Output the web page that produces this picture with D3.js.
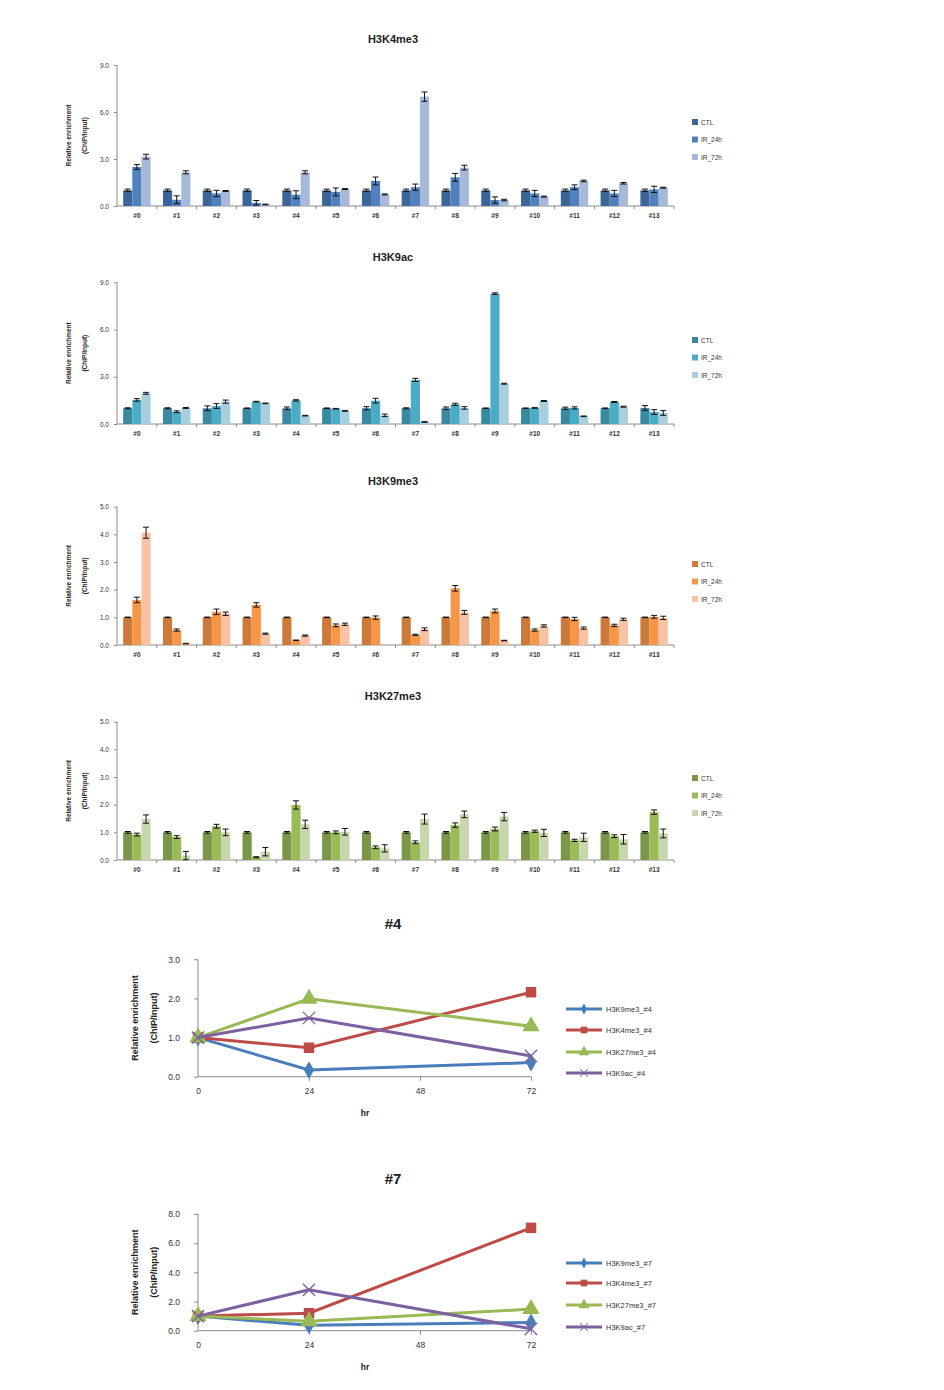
<!DOCTYPE html>
<html><head><meta charset="utf-8">
<script src="https://cdn.jsdelivr.net/npm/d3@7"></script>
<style>body{margin:0;background:#fff} text{font-family:"Liberation Sans",Arial,sans-serif}</style>
</head><body><svg id="c" width="944" height="1390"></svg>
<script>
// ---------- DATA ----------
const categories = ["#0","#1","#2","#3","#4","#5","#6","#7","#8","#9","#10","#11","#12","#13"];
const seriesNames = ["CTL","IR_24h","IR_72h"];

// H3K4me3
const k4me3_ctl = [1.0,1.0,1.0,1.0,1.0,1.0,1.0,1.0,1.0,1.0,1.0,1.0,1.0,1.0];
const k4me3_24h = [2.49,0.4,0.8,0.2,0.72,0.9,1.6,1.2,1.83,0.38,0.8,1.2,0.8,1.06];
const k4me3_72h = [3.15,2.15,0.96,0.1,2.15,1.08,0.74,6.98,2.45,0.38,0.6,1.6,1.45,1.17];
const k4me3_ctl_err = [0.08,0.08,0.08,0.08,0.08,0.08,0.08,0.08,0.08,0.08,0.08,0.08,0.08,0.08];
const k4me3_24h_err = [0.15,0.25,0.2,0.15,0.25,0.25,0.25,0.2,0.25,0.2,0.2,0.15,0.2,0.2];
const k4me3_72h_err = [0.15,0.1,0.03,0.02,0.1,0.03,0.03,0.3,0.15,0.05,0.03,0.05,0.05,0.03];

// H3K9ac
const k9ac_ctl = [1.0,1.0,1.0,1.0,1.0,1.0,1.0,1.0,1.0,1.0,1.0,1.0,1.0,1.02];
const k9ac_24h = [1.53,0.78,1.14,1.42,1.5,0.97,1.48,2.8,1.25,8.28,1.02,1.02,1.4,0.76];
const k9ac_72h = [1.95,1.02,1.42,1.31,0.53,0.83,0.55,0.13,1.02,2.56,1.46,0.49,1.1,0.7];
const k9ac_ctl_err = [0.03,0.03,0.15,0.02,0.08,0.02,0.1,0.03,0.08,0.02,0.02,0.07,0.02,0.15];
const k9ac_24h_err = [0.08,0.06,0.15,0.02,0.04,0.02,0.15,0.1,0.07,0.05,0.02,0.07,0.03,0.15];
const k9ac_72h_err = [0.06,0.03,0.1,0.02,0.02,0.02,0.08,0.02,0.08,0.03,0.03,0.02,0.03,0.15];

// H3K9me3
const k9me3_ctl = [1.0,1.0,1.0,1.0,1.0,1.0,1.0,1.0,1.0,1.0,1.0,1.0,1.0,1.0];
const k9me3_24h = [1.63,0.54,1.2,1.45,0.17,0.71,0.99,0.37,2.05,1.23,0.54,0.94,0.71,1.02];
const k9me3_72h = [4.06,0.05,1.13,0.41,0.34,0.75,0.0,0.57,1.18,0.16,0.69,0.61,0.93,0.98];
const k9me3_ctl_err = [0.01,0.01,0.01,0.01,0.01,0.01,0.01,0.01,0.01,0.01,0.01,0.01,0.01,0.01];
const k9me3_24h_err = [0.1,0.04,0.1,0.08,0.01,0.05,0.06,0.02,0.1,0.07,0.04,0.06,0.04,0.05];
const k9me3_72h_err = [0.2,0.01,0.06,0.02,0.02,0.04,0.0,0.05,0.07,0.01,0.04,0.04,0.04,0.06];

// H3K27me3
const k27me3_ctl = [1.0,1.0,1.0,1.0,1.0,1.0,1.0,1.0,1.0,1.0,1.0,1.0,1.0,1.0];
const k27me3_24h = [0.92,0.83,1.22,0.1,1.99,1.0,0.46,0.64,1.26,1.12,1.04,0.71,0.86,1.73];
const k27me3_72h = [1.48,0.16,1.0,0.3,1.29,1.02,0.42,1.48,1.65,1.57,0.98,0.82,0.75,0.96];
const k27me3_ctl_err = [0.03,0.03,0.03,0.03,0.03,0.03,0.03,0.03,0.03,0.03,0.03,0.03,0.03,0.03];
const k27me3_24h_err = [0.05,0.05,0.07,0.02,0.15,0.05,0.05,0.05,0.08,0.07,0.04,0.04,0.05,0.08];
const k27me3_72h_err = [0.15,0.15,0.12,0.15,0.15,0.12,0.13,0.18,0.12,0.15,0.13,0.15,0.17,0.16];

// Line charts
const hours = [0,24,72];
const lineNames4 = ["H3K9me3_#4","H3K4me3_#4","H3K27me3_#4","H3K9ac_#4"];
const l4_H3K9me3 = [1.0,0.17,0.36];
const l4_H3K4me3 = [1.0,0.74,2.16];
const l4_H3K27me3 = [1.0,1.99,1.29];
const l4_H3K9ac = [1.0,1.5,0.53];
const lineNames7 = ["H3K9me3_#7","H3K4me3_#7","H3K27me3_#7","H3K9ac_#7"];
const l7_H3K9me3 = [1.0,0.37,0.57];
const l7_H3K4me3 = [1.0,1.2,7.05];
const l7_H3K27me3 = [1.0,0.64,1.48];
const l7_H3K9ac = [1.0,2.8,0.13];
const xTicks = [0,24,48,72];

// ---------- DRAW ----------
const svg = d3.select("#c");
const fmt = d3.format(".1f");
const axisColor = "#8c8c8c";
const textColor = "#333";

function barChart(cfg) {
  const g = svg.append("g");
  const left = 117, right = 674;
  const x = d3.scaleBand().domain(categories).range([left, right]).paddingInner(0.31).paddingOuter(0.155);
  const xs = d3.scaleBand().domain(seriesNames).range([0, x.bandwidth()]);
  const y = d3.scaleLinear().domain([0, cfg.max]).range([cfg.bottom, cfg.top]);

  g.append("text").attr("x", 393).attr("y", cfg.titleY).attr("text-anchor","middle")
    .attr("font-size", 11).attr("font-weight","bold").attr("fill","#222").text(cfg.title);

  // y axis
  const ya = g.append("g").attr("transform", `translate(${left},0)`)
    .call(d3.axisLeft(y).tickValues(d3.range(0, cfg.max + 1e-6, cfg.step)).tickFormat(fmt).tickSize(3).tickPadding(5));
  ya.selectAll("path,line").attr("stroke", axisColor);
  ya.select(".domain").attr("d", `M-0,${cfg.bottom}V${cfg.top}`);
  ya.selectAll("text").attr("font-size", 6.5).attr("fill", textColor).attr("font-family","'DejaVu Sans',sans-serif");

  // x axis
  const xa = g.append("g").attr("transform", `translate(0,${cfg.bottom})`)
    .call(d3.axisBottom(x).tickSize(0).tickPadding(7));
  xa.select(".domain").attr("stroke", axisColor).attr("d", `M${left},0H${right}`);
  xa.selectAll("text").attr("font-size", 6.5).attr("fill", textColor).attr("font-weight","bold").attr("font-family","'DejaVu Sans',sans-serif");
  const step = x.step();
  categories.forEach((c, i) => {
    const bx = left + step * (i + 1);
    g.append("line").attr("x1", bx).attr("x2", bx).attr("y1", cfg.bottom).attr("y2", cfg.bottom + 3).attr("stroke", axisColor);
  });

  // y title
  const yt = g.append("text").attr("transform", `translate(71,${(cfg.top + cfg.bottom) / 2}) rotate(-90)`)
    .attr("text-anchor","middle").attr("font-size", 6.5).attr("font-weight","bold").attr("fill","#222");
  yt.text("Relative  enrichment");
  g.append("text").attr("transform", `translate(87,${(cfg.top + cfg.bottom) / 2}) rotate(-90)`)
    .attr("text-anchor","middle").attr("font-size", 6.5).attr("font-weight","bold").attr("fill","#222").text("(ChIP/Input)");

  // bars
  seriesNames.forEach((s, si) => {
    const vals = cfg.vals[si], errs = cfg.errs[si];
    const bg = g.append("g");
    bg.selectAll("rect").data(categories).join("rect")
      .attr("x", c => x(c) + xs(s))
      .attr("y", (c, i) => y(vals[i]))
      .attr("width", xs.bandwidth())
      .attr("height", (c, i) => y(0) - y(vals[i]))
      .attr("fill", cfg.colors[si]);
    const eg = g.append("g").attr("stroke","#111").attr("stroke-width",1);
    categories.forEach((c, i) => {
      if (vals[i] <= 0) return;
      const cx = x(c) + xs(s) + xs.bandwidth() / 2;
      const y1 = y(vals[i] + errs[i]), y2 = y(Math.max(0, vals[i] - errs[i]));
      eg.append("line").attr("x1", cx).attr("x2", cx).attr("y1", y1).attr("y2", y2);
      eg.append("line").attr("x1", cx - 3).attr("x2", cx + 3).attr("y1", y1).attr("y2", y1);
      eg.append("line").attr("x1", cx - 3).attr("x2", cx + 3).attr("y1", y2).attr("y2", y2);
    });
  });

  // legend
  seriesNames.forEach((s, si) => {
    const ly = cfg.legendY + si * 17.5;
    g.append("rect").attr("x", 692).attr("y", ly - 3).attr("width", 6).attr("height", 6).attr("fill", cfg.colors[si]);
    g.append("text").attr("x", 701).attr("y", ly + 2.5).attr("font-size", 6.5).attr("fill", textColor)
      .attr("font-family","'DejaVu Sans',sans-serif").text(s);
  });
}

barChart({title:"H3K4me3", titleY:43, top:65, bottom:206, max:9, step:3,
  vals:[k4me3_ctl,k4me3_24h,k4me3_72h], errs:[k4me3_ctl_err,k4me3_24h_err,k4me3_72h_err],
  colors:["#3C6699","#4F81BD","#A7B9DA"], legendY:122});
barChart({title:"H3K9ac", titleY:261, top:282.3, bottom:424, max:9, step:3,
  vals:[k9ac_ctl,k9ac_24h,k9ac_72h], errs:[k9ac_ctl_err,k9ac_24h_err,k9ac_72h_err],
  colors:["#3A89A3","#4BACC6","#A8CFDD"], legendY:340});
barChart({title:"H3K9me3", titleY:485, top:506.7, bottom:645, max:5, step:1,
  vals:[k9me3_ctl,k9me3_24h,k9me3_72h], errs:[k9me3_ctl_err,k9me3_24h_err,k9me3_72h_err],
  colors:["#CC7A39","#F79646","#FAC2A4"], legendY:564});
barChart({title:"H3K27me3", titleY:700, top:721.7, bottom:860, max:5, step:1,
  vals:[k27me3_ctl,k27me3_24h,k27me3_72h], errs:[k27me3_ctl_err,k27me3_24h_err,k27me3_72h_err],
  colors:["#7A9649","#9BBB59","#C6D7AD"], legendY:778});

// ---------- line charts ----------
const lineColors = ["#4A7EBB","#BE4B48","#98B954","#7D60A0"];
const markerTypes = [d3.symbolDiamond, d3.symbolSquare, d3.symbolTriangle, d3.symbolX];
const markerSizes = [90, 110, 130, 100];

function lineChart(cfg) {
  const g = svg.append("g");
  const x = d3.scaleLinear().domain([0,72]).range([198, 531]);
  const y = d3.scaleLinear().domain([0, cfg.max]).range([cfg.bottom, cfg.top]);
  g.append("text").attr("x", 393).attr("y", cfg.titleY).attr("text-anchor","middle")
    .attr("font-size", 15).attr("font-weight","bold").attr("fill","#222").text(cfg.title);

  const ya = g.append("g").attr("transform","translate(198,0)")
    .call(d3.axisLeft(y).tickValues(d3.range(0, cfg.max + 1e-6, cfg.step)).tickFormat(fmt).tickSize(4).tickPadding(14));
  ya.selectAll("path,line").attr("stroke", axisColor);
  ya.select(".domain").attr("d", `M0,${cfg.bottom}V${cfg.top}`);
  ya.selectAll("text").attr("font-size", 8.5).attr("fill", textColor).attr("font-family","'DejaVu Sans',sans-serif");

  const xa = g.append("g").attr("transform", `translate(0,${cfg.bottom})`)
    .call(d3.axisBottom(x).tickValues(xTicks).tickSize(4).tickPadding(7));
  xa.selectAll("path,line").attr("stroke", axisColor);
  xa.select(".domain").attr("d", "M198,0H531");
  xa.selectAll(".tick").filter(d => d === 0).select("line").remove();
  xa.selectAll("text").attr("font-size", 8.5).attr("fill", textColor).attr("font-family","'DejaVu Sans',sans-serif");

  g.append("text").attr("x", 365).attr("y", cfg.bottom + 39).attr("text-anchor","middle")
    .attr("font-size", 8.5).attr("font-weight","bold").attr("fill","#222").text("hr");

  const mid = (cfg.top + cfg.bottom) / 2;
  g.append("text").attr("transform", `translate(138,${mid}) rotate(-90)`).attr("text-anchor","middle")
    .attr("font-size", 9).attr("font-weight","bold").attr("fill","#222").text("Relative  enrichment");
  g.append("text").attr("transform", `translate(157,${mid}) rotate(-90)`).attr("text-anchor","middle")
    .attr("font-size", 9).attr("font-weight","bold").attr("fill","#222").text("(ChIP/Input)");

  const line = d3.line().x((d, i) => x(hours[i])).y(d => y(d));
  cfg.series.forEach((vals, si) => {
    g.append("path").datum(vals).attr("d", line).attr("fill","none")
      .attr("stroke", lineColors[si]).attr("stroke-width", 3);
    const sym = d3.symbol().type(markerTypes[si]).size(markerSizes[si]);
    vals.forEach((v, i) => {
      const m = g.append("path").attr("d", sym()).attr("transform", `translate(${x(hours[i])},${y(v)})`);
      if (si === 3) m.attr("fill","none").attr("stroke", lineColors[si]).attr("stroke-width", 1.3);
      else m.attr("fill", lineColors[si]);
    });
  });

  cfg.names.forEach((n, si) => {
    const ly = cfg.legendY[si];
    g.append("line").attr("x1", 566).attr("x2", 602).attr("y1", ly).attr("y2", ly)
      .attr("stroke", lineColors[si]).attr("stroke-width", 3);
    const sym = d3.symbol().type(markerTypes[si]).size(markerSizes[si] * 0.4);
    const m = g.append("path").attr("d", sym()).attr("transform", `translate(584,${ly})`);
    if (si === 3) m.attr("fill","none").attr("stroke", lineColors[si]).attr("stroke-width", 1);
    else m.attr("fill", lineColors[si]);
    g.append("text").attr("x", 606).attr("y", ly + 3).attr("font-size", 7.5).attr("fill", textColor)
      .attr("font-family","'DejaVu Sans',sans-serif").text(n);
  });
}

lineChart({title:"#4", titleY:929, top:959.3, bottom:1076.7, max:3, step:1,
  series:[l4_H3K9me3,l4_H3K4me3,l4_H3K27me3,l4_H3K9ac], names:lineNames4,
  legendY:[1009,1030,1052,1073]});
lineChart({title:"#7", titleY:1184, top:1214, bottom:1330.7, max:8, step:2,
  series:[l7_H3K9me3,l7_H3K4me3,l7_H3K27me3,l7_H3K9ac], names:lineNames7,
  legendY:[1263,1283,1305,1327]});
</script></body></html>
